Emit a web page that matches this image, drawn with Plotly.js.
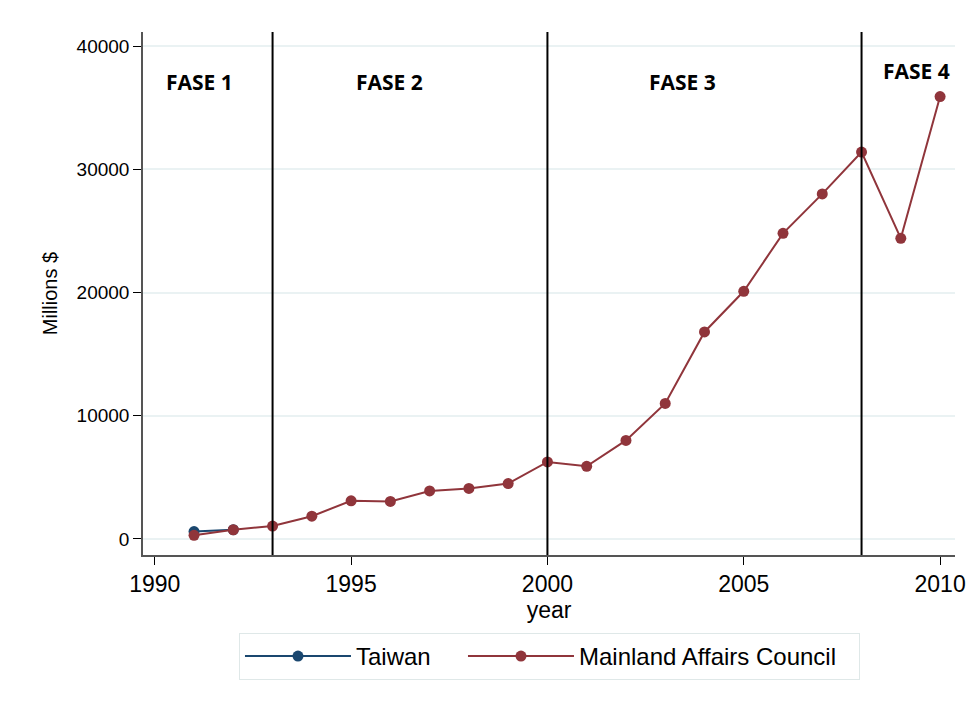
<!DOCTYPE html>
<html>
<head>
<meta charset="utf-8">
<script src="https://cdn.plot.ly/plotly-3.0.1.min.js"></script>
<style>html,body{margin:0;padding:0;background:#fff;}#chart{width:968px;height:704px;}</style>
</head>
<body>
<div id="chart"></div>
<script>
const years = [1991,1992,1993,1994,1995,1996,1997,1998,1999,2000,2001,2002,2003,2004,2005,2006,2007,2008,2009,2010];
const macValues = [300,750,1050,1850,3100,3050,3900,4100,4500,6250,5900,8000,11000,16800,20100,24800,28000,31400,24400,35900];
const taiwanYears = [1991,1992];
const taiwanValues = [600,750];
const phaseBreaks = [1993,2000,2008];
const phaseLabels = ['FASE 1','FASE 2','FASE 3','FASE 4'];
const phaseLabelX = [1991.15,1995.99,2003.43,2009.4];
const phaseLabelY = [37100,37100,37100,38000];
const yTicks = [0,10000,20000,30000,40000];
const xTicks = [1990,1995,2000,2005,2010];

const traces = [
  {x: taiwanYears, y: taiwanValues, name: 'Taiwan', mode: 'lines+markers', legendwidth: 102,
   line: {color: '#1a476f', width: 2}, marker: {color: '#1a476f', size: 11}},
  {x: years, y: macValues, name: 'Mainland Affairs Council', mode: 'lines+markers', legendwidth: 275,
   line: {color: '#90353b', width: 2}, marker: {color: '#90353b', size: 11}}
];

const shapes = phaseBreaks.map(v => ({type: 'line', xref: 'x', yref: 'paper', x0: v, x1: v, y0: 0, y1: 1,
  line: {color: '#000', width: 2}}));

const annotations = phaseLabels.map((t, i) => ({x: phaseLabelX[i], y: phaseLabelY[i], xref: 'x', yref: 'y',
  text: '<b>' + t + '</b>', showarrow: false, font: {family: 'Open Sans, Liberation Sans, sans-serif', size: 21, color: '#000'}}));

const layout = {
  width: 968, height: 704,
  margin: {l: 143, r: 13, t: 32, b: 149},
  paper_bgcolor: '#fff', plot_bgcolor: '#fff',
  font: {family: 'Liberation Sans, Arial, sans-serif', size: 19, color: '#000'},
  showlegend: true,
  legend: {orientation: 'h', x: 0.1182, xanchor: 'left', y: -0.194, yanchor: 'middle',
    bordercolor: '#dfe8e8', borderwidth: 1, font: {size: 24}, bgcolor: '#fff', itemwidth: 106},
  xaxis: {range: [1989.7, 2010.38], tickvals: xTicks, ticks: 'outside', ticklen: 8, tickcolor: '#000',
    showgrid: false, zeroline: false, showline: true, linecolor: '#555', linewidth: 1.5,
    tickfont: {size: 23}, title: {text: 'year', font: {size: 23}, standoff: 0}},
  yaxis: {range: [-1300, 41140], tickvals: yTicks, tickformat: 'd', ticks: 'outside', ticklen: 8, tickcolor: '#000',
    showgrid: true, gridcolor: '#eaf2f3', gridwidth: 1.5, zeroline: false, showline: true, linecolor: '#555', linewidth: 1.5,
    tickfont: {size: 19}, title: {text: 'Millions $', font: {size: 20}, standoff: 14}},
  shapes: shapes,
  annotations: annotations
};

Plotly.newPlot('chart', traces, layout, {displayModeBar: false, responsive: false});
</script>
</body>
</html>
